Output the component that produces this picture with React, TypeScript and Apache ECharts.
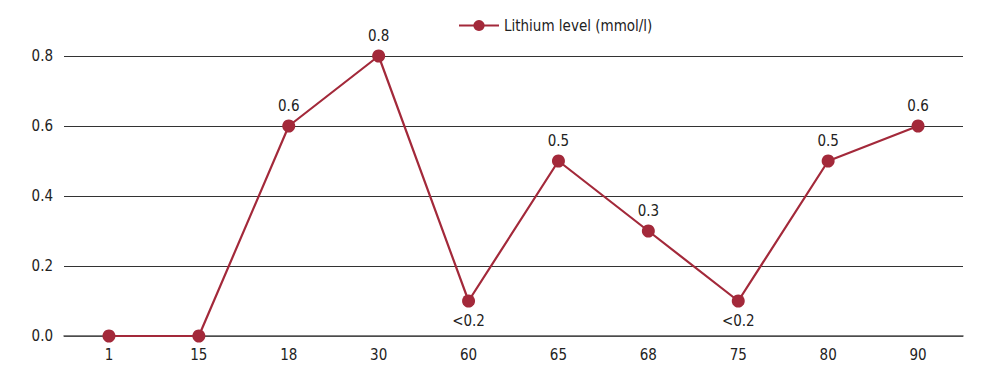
import React, { useEffect, useRef } from "react";
import * as echarts from "echarts";

const categories = ["1", "15", "18", "30", "60", "65", "68", "75", "80", "90"];
const lithium = [0, 0, 0.6, 0.8, 0.1, 0.5, 0.3, 0.1, 0.5, 0.6];
const pointLabels = ["", "", "0.6", "0.8", "<0.2", "0.5", "0.3", "<0.2", "0.5", "0.6"];
const labelBelow = [false, false, false, false, true, false, false, true, false, false];
const yTicks = [0, 0.2, 0.4, 0.6, 0.8];

const FONT = "'DejaVu Sans Condensed', 'Liberation Sans Narrow', 'Roboto', sans-serif";
const RED = "#a3293a";

export default function App() {
  const ref = useRef<HTMLDivElement>(null);
  useEffect(() => {
    if (!ref.current) return;
    const chart = echarts.init(ref.current, null, { renderer: "svg" });
    chart.setOption({
      animation: false,
      textStyle: { fontFamily: FONT },
      legend: {
        top: 13,
        left: 453,
        itemWidth: 40,
        itemHeight: 14,
        itemGap: 8,
        textStyle: { fontFamily: FONT, fontSize: 15, color: "#222" },
        data: ["Lithium level (mmol/l)"],
      },
      grid: { left: 64, right: 37, top: 56, bottom: 47, containLabel: false },
      xAxis: {
        type: "category",
        data: categories,
        boundaryGap: true,
        axisLine: { lineStyle: { color: "#555", width: 1.5 } },
        axisTick: { show: false },
        axisLabel: { fontFamily: FONT, fontSize: 15, color: "#222", margin: 11 },
      },
      yAxis: {
        type: "value",
        min: yTicks[0],
        max: yTicks[yTicks.length - 1],
        interval: 0.2,
        axisLine: { show: false },
        axisTick: { show: false },
        axisLabel: {
          fontFamily: FONT,
          fontSize: 15,
          color: "#222",
          margin: 11,
          formatter: (v: number) => v.toFixed(1),
        },
        splitLine: { lineStyle: { color: "#333", width: 1 } },
      },
      series: [
        {
          name: "Lithium level (mmol/l)",
          type: "line",
          symbol: "circle",
          symbolSize: 13,
          itemStyle: { color: RED },
          lineStyle: { color: RED, width: 2.2 },
          data: lithium.map((v, i) => ({
            value: v,
            label: {
              show: pointLabels[i] !== "",
              position: labelBelow[i] ? "bottom" : "top",
              distance: 6,
              formatter: pointLabels[i],
              fontFamily: FONT,
              fontSize: 15,
              color: "#222",
            },
          })),
        },
      ],
    });
    return () => chart.dispose();
  }, []);
  return (
    <div
      ref={ref}
      style={{ position: "fixed", left: 0, top: 0, width: 1000, height: 383, background: "#fff" }}
    />
  );
}
